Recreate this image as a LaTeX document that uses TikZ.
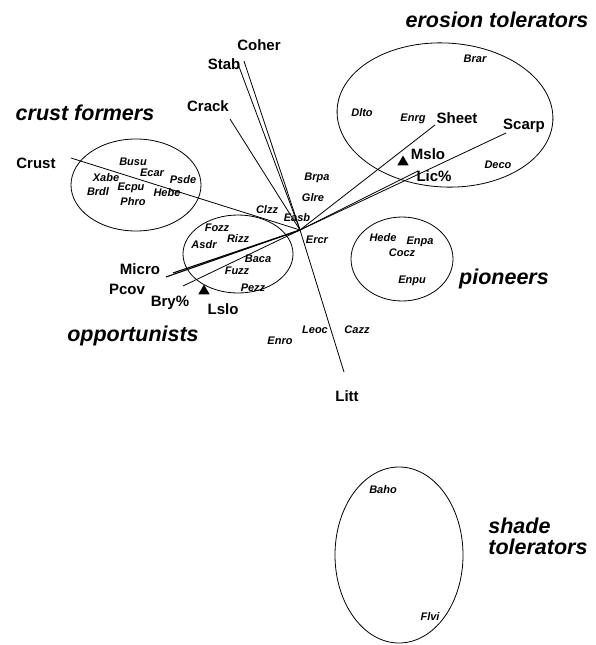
\documentclass[tikz,border=0pt]{standalone}
\usepackage{fontspec}
\setmainfont{Liberation Sans}
\usetikzlibrary{shapes.geometric}
\tikzset{
  vec/.style={font=\bfseries\fontsize{15}{17}\selectfont, inner sep=0pt},
  sp/.style={font=\bfseries\itshape\fontsize{11}{13}\selectfont, inner sep=0pt},
  grp/.style={font=\bfseries\itshape\fontsize{21.5}{24}\selectfont, inner sep=0pt},
  tri/.style={regular polygon, regular polygon sides=3, fill, inner sep=0pt, minimum size=13pt}
}
\begin{document}
\begin{tikzpicture}[x=1pt, y=-1pt, line width=0.8pt]
\useasboundingbox (0,0) rectangle (595,645);
% groups
\draw[rotate around={-3:(445,115)}] (445,115) ellipse (108pt and 72pt);
\draw (136,185) ellipse (65pt and 46pt);
\draw (238,254) ellipse (55pt and 39pt);
\draw (402,259) ellipse (51pt and 42pt);
\draw (399,555) ellipse (64pt and 88pt);
\node[grp] (erosion) at (497,20) {erosion tolerators};
\node[grp] (crustf) at (85,113) {crust formers};
\node[grp] (pion) at (504,279) {pioneers};
\node[grp] (opport) at (133,336) {opportunists};
\node[grp, anchor=west] (shade) at (488,526) {shade};
\node[grp, anchor=west] (tolr) at (488,547) {tolerators};
% vectors
\coordinate (o) at (300,230);
\foreach \n/\x/\y in {crust/71/158, crack/230/119, stab/238/64, coher/244/61,
  sheet/435/125, scarp/506/133, lic/418/171, litt/344/372, bry/183/286}
  \coordinate (\n) at (\x,\y);
\coordinate (micro) at (166,277);
\coordinate (pcov) at (173,273);
\foreach \n in {crust, crack, stab, coher, sheet, scarp, lic, litt, bry}
  \draw (o) -- (\n);
\draw[line width=1.1pt] (o) -- (micro);
\draw[line width=1.1pt] (o) -- (pcov);
\node[vec] (lcoher) at (259,45) {Coher};
\node[vec] (lstab) at (224,64) {Stab};
\node[vec] (lcrack) at (208,106) {Crack};
\node[vec] (lcrust) at (36,163) {Crust};
\node[vec] (lsheet) at (457,118) {Sheet};
\node[vec] (lscarp) at (524,126) {Scarp};
\node[vec] (lmslo) at (428,154) {Mslo};
\node[vec] (llic) at (434,176) {Lic\%};
\node[vec] (lmicro) at (140,269) {Micro};
\node[vec] (lpcov) at (127,289) {Pcov};
\node[vec] (lbry) at (170,303) {Bry\%};
\node[vec] (llslo) at (223,309) {Lslo};
\node[vec] (llitt) at (347,396) {Litt};
\node[tri] (mslo) at (403,162) {};
\node[tri] (lslo) at (204,291) {};
% species
\foreach \s/\x/\y in {Brar/475/59, Dlto/362/113, Enrg/413/119, Deco/498/165,
  Busu/133/162, Xabe/106/178, Ecar/152/173, Psde/183/180, Brdl/98/192,
  Ecpu/131/188, Hebe/167/193, Phro/133/202, Clzz/267/210, Easb/297/218,
  Brpa/317/178, Glre/313/198, Ercr/317/240, Fozz/217/228, Rizz/238/239,
  Asdr/204/245, Baca/258/259, Fuzz/237/271, Pezz/253/288, Hede/383/238,
  Enpa/420/242, Cocz/402/253, Enpu/412/281, Leoc/315/330, Cazz/357/330,
  Enro/280/341, Baho/383/490, Flvi/430/617}
  \node[sp] (\s) at (\x,\y) {\s};
\end{tikzpicture}
\end{document}
